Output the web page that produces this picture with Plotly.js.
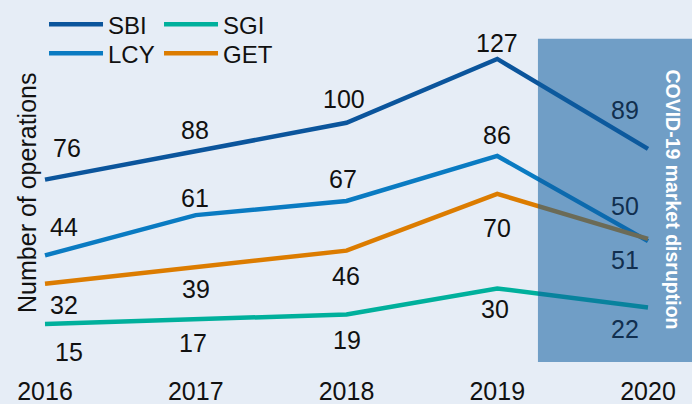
<!DOCTYPE html>
<html>
<head>
<meta charset="utf-8">
<script src="https://cdn.plot.ly/plotly-3.0.1.min.js"></script>
<style>html,body{margin:0;padding:0;background:#e6edf6;}#chart{width:692px;height:404px;}</style>
</head>
<body>
<div id="chart"></div>
<script>
const years = [2016, 2017, 2018, 2019, 2020];
const yearLabels = ['2016', '2017', '2018', '2019', '2020'];
const sbi = [76, 88, 100, 127, 89];
const sgi = [15, 17, 19, 30, 22];
const lcy = [44, 61, 67, 86, 50];
const get = [32, 39, 46, 70, 51];
const covidStart = 2019.27;
const covidEnd = 2020.3;
const covidLabel = 'COVID-19 market disruption';
const yTitle = 'Number of operations';

const colors = {SBI: '#0b559c', SGI: '#00b09c', LCY: '#0a7bc2', GET: '#dc7c00'};

// label offsets (px) per point: [xshift, yshift]
const offs = {
  SBI: [[22,32],[-1,21],[-3,24],[0,16],[-23,39]],
  LCY: [[19,28],[-1,17],[-4,22],[0,21],[-23,35]],
  GET: [[19,-21],[0,-22],[-1,-25],[0,-34],[-23,-21]],
  SGI: [[24,-28],[-3,-24],[0,-25],[-2,-21],[-23,-22]]
};

const series = [
  {name: 'SBI', y: sbi, legend: 'legend'},
  {name: 'SGI', y: sgi, legend: 'legend'},
  {name: 'LCY', y: lcy, legend: 'legend2'},
  {name: 'GET', y: get, legend: 'legend2'}
];

const traces = series.map(s => ({
  type: 'scatter', mode: 'lines', x: years, y: s.y, name: s.name,
  legend: s.legend,
  line: {color: colors[s.name], width: 4.5},
  hoverinfo: 'skip'
}));

const FONT = 'Liberation Sans, Arial, sans-serif';
const annotations = [];
series.forEach(s => {
  s.y.forEach((v, i) => {
    annotations.push({
      x: years[i], y: v, xref: 'x', yref: 'y', text: String(v), showarrow: false,
      xshift: offs[s.name][i][0], yshift: offs[s.name][i][1],
      font: {family: FONT, size: 25, color: years[i] >= covidStart ? '#112f4f' : '#111111'}
    });
  });
});
annotations.push({
  x: 2020.165, y: 67.7, xref: 'x', yref: 'y', text: '<b>' + covidLabel + '</b>',
  showarrow: false, textangle: 90, xanchor: 'center', yanchor: 'middle',
  font: {family: FONT, size: 19.5, color: '#ffffff'}
});
annotations.push({
  x: -0.0168, y: 0.467, xref: 'paper', yref: 'paper', text: yTitle,
  showarrow: false, textangle: -90, xanchor: 'center', yanchor: 'middle',
  font: {family: FONT, size: 25, color: '#111111'}
});

const legendFont = {family: FONT, size: 24, color: '#111111'};
const layout = {
  width: 692, height: 404,
  margin: {l: 38, r: 0, t: 0, b: 42},
  paper_bgcolor: '#e6edf6', plot_bgcolor: '#e6edf6',
  showlegend: true,
  legend: {orientation: 'h', x: 0.0092, y: 0.932, xanchor: 'left', yanchor: 'middle',
    bgcolor: 'rgba(0,0,0,0)', font: legendFont, itemwidth: 54, entrywidth: 46, traceorder: 'normal'},
  legend2: {orientation: 'h', x: 0.0092, y: 0.852, xanchor: 'left', yanchor: 'middle',
    bgcolor: 'rgba(0,0,0,0)', font: legendFont, itemwidth: 54, entrywidth: 46, traceorder: 'normal'},
  xaxis: {
    range: [2015.9536, 2020.2919], tickmode: 'array', tickvals: years, ticktext: yearLabels,
    showgrid: false, zeroline: false, showline: false, ticks: '', ticklabelstandoff: 12,
    tickfont: {family: FONT, size: 25, color: '#111111'}
  },
  yaxis: {
    range: [-1.06, 151.9], showgrid: false, zeroline: false, showline: false, showticklabels: false, ticks: ''
  },
  shapes: [{
    type: 'rect', xref: 'x', yref: 'y', x0: covidStart, x1: covidEnd, y0: -1.06, y1: 135.5,
    fillcolor: 'rgba(14,92,159,0.55)', line: {width: 0}, layer: 'above'
  }],
  annotations: annotations
};

Plotly.newPlot('chart', traces, layout, {displayModeBar: false, staticPlot: true});
</script>
</body>
</html>
